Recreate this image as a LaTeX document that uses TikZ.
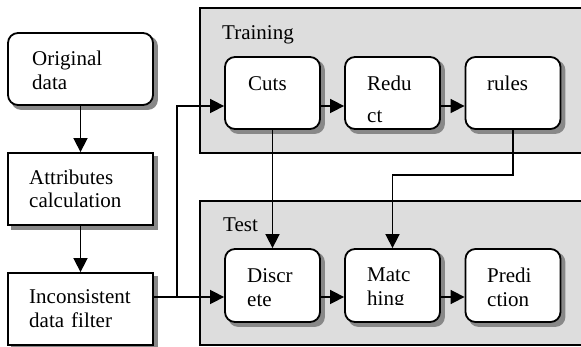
\documentclass[tikz,border=0pt]{standalone}
\usepackage{fontspec}
\setmainfont{Liberation Serif}
\usetikzlibrary{arrows.meta}

\definecolor{panelgray}{RGB}{221,221,221}
\definecolor{shadowgray}{RGB}{136,136,136}

\pgfdeclarelayer{panels}
\pgfdeclarelayer{shadows}
\pgfsetlayers{panels,shadows,main}

\tikzset{
  x=1pt, y=-1pt,
  panel/.style={draw, line width=1.1pt, fill=panelgray, inner sep=0pt},
  box/.style={draw, line width=1.8pt, fill=white, inner sep=0pt},
  roundbox/.style={box, rounded corners=10pt},
  shade box/.style={fill=shadowgray},
  lbl/.style={font=\fontsize{21}{24}\selectfont, align=left, text width=120pt,
    inner sep=0pt, anchor=base west},
  arr/.style={line width=1.6pt, -{Triangle[length=14pt,width=14pt]}},
  wire/.style={line width=1.6pt},
}
% grey offset copy of a box, drawn on the shadow layer
\newcommand\boxshadow[2][0pt]{%
  \begin{pgfonlayer}{shadows}
    \fill[shade box, rounded corners=#1]
      ([shift={(4,4)}]#2.north west) rectangle ([shift={(4,4)}]#2.south east);
  \end{pgfonlayer}}

\begin{document}
\begin{tikzpicture}
  \useasboundingbox (0,0) rectangle (581,347);

  % stage panels
  \begin{pgfonlayer}{panels}
    \node[panel, minimum width=420pt, minimum height=145pt] (training) at (410,80.5) {};
    \node[panel, minimum width=420pt, minimum height=144pt] (test) at (410,273) {};
  \end{pgfonlayer}
  \node[lbl] (training-lbl) at (222,40) {Training};
  \node[lbl] (test-lbl) at (223,232) {Test};

  % preprocessing column
  \node[roundbox, minimum width=145pt, minimum height=72pt] (orig) at (80.5,69) {};
  \node[box, minimum width=145pt, minimum height=72pt] (attr) at (80.5,189) {};
  \node[box, minimum width=145pt, minimum height=72pt] (incon) at (80.5,309) {};
  \node[lbl] (orig-t) at (32,66) {Original\\data};
  \node[lbl] (attr-t) at (29,185) {Attributes\\[-1pt]calculation};
  \node[lbl] (incon-t) at (29,304) {Inconsistent\\data filter};

  % training stage
  \node[roundbox, minimum width=95pt, minimum height=72pt] (cuts) at (272.5,93) {};
  \node[roundbox, minimum width=95pt, minimum height=72pt] (reduct) at (392.5,93) {};
  \node[roundbox, minimum width=95pt, minimum height=72pt] (rules) at (513,93) {};
  \node[lbl] (cuts-t) at (248,91) {Cuts};
  \node[lbl] (reduct-t) at (367,91) {Redu\\[8pt]ct};
  \node[lbl] (rules-t) at (487,91) {rules};

  % test stage
  \node[roundbox, minimum width=95pt, minimum height=73pt] (discr) at (272.5,285.5) {};
  \node[roundbox, minimum width=95pt, minimum height=73pt] (match) at (392.5,285.5) {};
  \node[roundbox, minimum width=95pt, minimum height=73pt] (pred) at (513,285.5) {};
  \node[lbl] (discr-t) at (247,283) {Discr\\ete};
  \begin{scope}
    \clip (345,250) rectangle (440,305);
    \node[lbl] (match-t) at (367,282) {Matc\\hing};
  \end{scope}
  \node[lbl] (pred-t) at (487,283) {Predi\\ction};

  % drop shadows
  \boxshadow[10pt]{orig}
  \boxshadow{attr}
  \boxshadow{incon}
  \boxshadow[10pt]{cuts}
  \boxshadow[10pt]{reduct}
  \boxshadow[10pt]{rules}
  \boxshadow[10pt]{discr}
  \boxshadow[10pt]{match}
  \boxshadow[10pt]{pred}

  % routing coordinates
  \coordinate (split) at (177,297);
  \coordinate (trainrow) at (0,106);
  \coordinate (testrow) at (0,297);
  \coordinate (ruleline) at (0,175);

  % connectors
  \draw[arr] (orig) -- (attr);
  \draw[arr] (attr) -- (incon);
  \draw[wire] (incon.east |- split) -- (split);
  \draw[arr] (split) -- (split -| discr.west);
  \draw[arr] (split) |- (cuts.west |- trainrow);
  \draw[arr] (cuts.east |- trainrow) -- (reduct.west |- trainrow);
  \draw[arr] (reduct.east |- trainrow) -- (rules.west |- trainrow);
  \draw[arr] (discr.east |- testrow) -- (match.west |- testrow);
  \draw[arr] (match.east |- testrow) -- (pred.west |- testrow);
  \draw[arr] (cuts.south) -- (discr.north);
  \draw[arr] (rules.south) -- (rules.south |- ruleline) -| (match.north);
\end{tikzpicture}
\end{document}
